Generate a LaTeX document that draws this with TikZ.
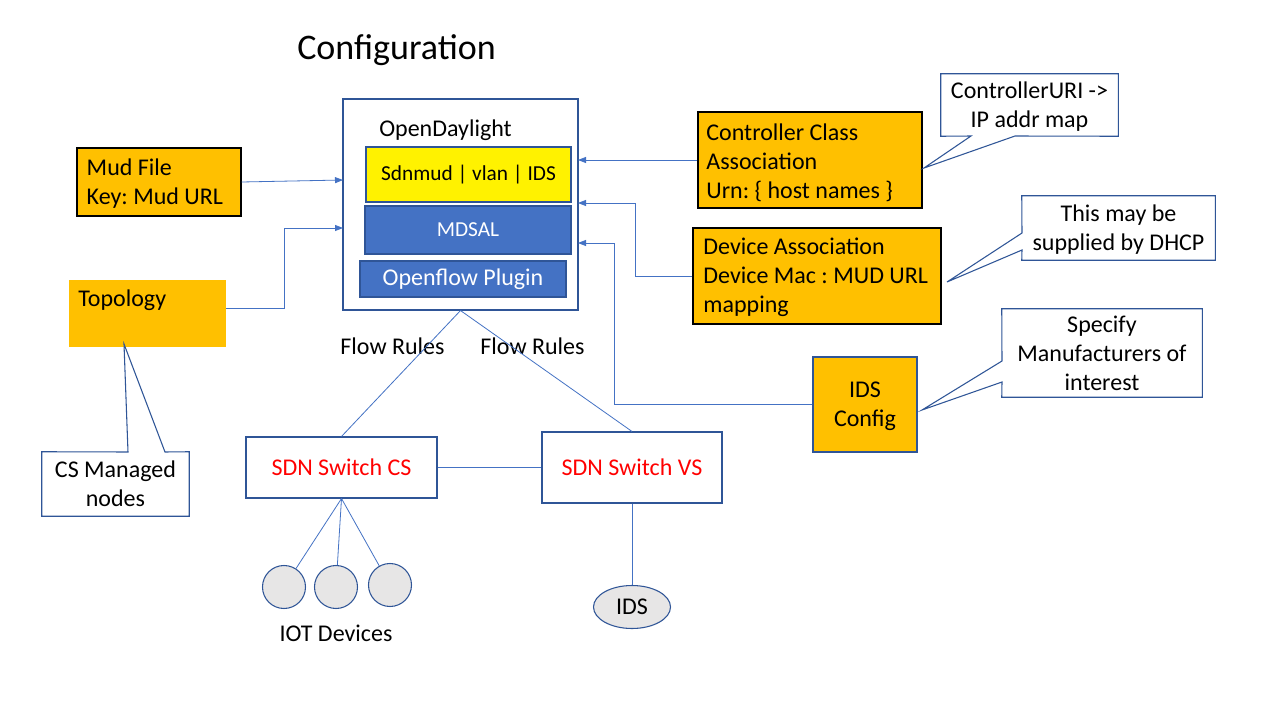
\documentclass[tikz,border=0pt]{standalone}
\usepackage{fontspec}
\setmainfont{Carlito}
\usetikzlibrary{shapes.geometric,arrows.meta}

\definecolor{boxorange}{HTML}{FFC000}
\definecolor{darkblue}{HTML}{2F5597}
\definecolor{lineblue}{HTML}{4472C4}
\definecolor{devgrey}{HTML}{E7E6E6}

\tikzset{
  txt/.style={font=\fontsize{18}{21.6}\selectfont\frenchspacing},
  orangebox/.style={draw=black, fill=boxorange, line width=0.8pt, inner sep=0pt},
  boxtext/.style={txt, align=flush left, inner sep=0pt, anchor=west},
  notebox/.style={txt, align=center, inner sep=0pt, text depth=0pt},
  notefr/.style={draw=darkblue, line width=0.8pt, line join=miter},
  layerbox/.style={draw=darkblue, line width=0.8pt, inner sep=0pt},
  switchbox/.style={txt, draw=darkblue, line width=0.8pt, text=red, inner sep=0pt},
  link/.style={draw=lineblue, line width=0.6pt},
  arr/.style={link, -{Triangle[length=6pt,width=4.5pt]}},
  devcirc/.style={circle, draw=darkblue, fill=devgrey, line width=0.8pt, minimum size=32.25pt, inner sep=0pt},
}

\begin{document}
\begin{tikzpicture}[x=0.75pt, y=-0.75pt]
  \path[fill=white, use as bounding box] (0,0) rectangle (1280,720);

  % title
  \node[font=\fontsize{27}{32}\selectfont] (title) at (396.5,50) {Configuration};

  % controller
  \node[layerbox, minimum width=176.25pt, minimum height=158.25pt] (odl) at (460.5,204.5) {};
  \node[txt] (odltext) at (445.5,130) {OpenDaylight};
  \node[layerbox, fill=yellow, font=\fontsize{16}{19}\selectfont, minimum width=153.75pt, minimum height=41.25pt] (apps) at (468.5,174.5) {Sdnmud | vlan | IDS};
  \node[layerbox, fill=lineblue, text=white, font=\fontsize{16}{19}\selectfont, minimum width=154.5pt, minimum height=36pt] (mdsal) at (468,230) {MDSAL};
  \node[layerbox, fill=lineblue, text=white, txt, minimum width=154.5pt, minimum height=27pt] (ofp) at (463,279) {Openflow Plugin};

  % inputs
  \node[orangebox, minimum width=123pt, minimum height=51pt] (mud) at (159,182) {};
  \node[boxtext] (mudtxt) at ([xshift=7.5pt,yshift=-1.5pt]mud.west) {Mud File\\Key: Mud URL};
  \node[fill=boxorange, minimum width=117.75pt, minimum height=50.25pt, inner sep=0pt,
        label={[txt, anchor=north west, inner xsep=7pt, inner ysep=7.5pt]north west:Topology}] (topo) at (147.5,313.5) {};
  \node[orangebox, minimum width=168pt, minimum height=72pt] (ctrl) at (810,160) {};
  \node[boxtext] (ctrltxt) at ([xshift=6.5pt,yshift=-2pt]ctrl.west) {Controller Class\\Association\\Urn: \{ host names \}};
  \node[orangebox, minimum width=186pt, minimum height=72pt] (dev) at (817,276) {};
  \node[boxtext] (devtxt) at ([xshift=8pt,yshift=-1pt]dev.west) {Device Association\\Device Mac : MUD URL\\mapping};
  \node[txt, draw=darkblue, fill=boxorange, line width=0.8pt, align=center, inner sep=0pt, text depth=0pt, minimum width=78pt, minimum height=71.25pt] (idscfg) at (865,404.5) {IDS\\Config};

  % notes
  \node[notebox, minimum width=110.25pt, minimum height=48pt] (csnote) at (115.5,484) {CS Managed\\nodes};
  \draw[notefr] (csnote.north west) -- (128,452) -- (124,344) -- (165,452) -- (csnote.north east) -- (csnote.south east) -- (csnote.south west) -- cycle;
  \node[notebox, minimum width=132.75pt, minimum height=46.5pt] (urinote) at (1029.5,105) {ControllerURI ->\\IP addr map};
  \draw[notefr] (urinote.south east) -- (1015,136) -- (924,168) -- (971,136) -- (urinote.south west) -- (urinote.north west) -- (urinote.north east) -- cycle;
  \node[notebox, minimum width=144.75pt, minimum height=48pt] (dhcpnote) at (1118.5,228) {This may be\\supplied by DHCP};
  \draw[notefr] (dhcpnote.north west) -- (1022,233) -- (947,282) -- (1022,250) -- (dhcpnote.south west) -- (dhcpnote.south east) -- (dhcpnote.north east) -- cycle;
  \node[notebox, minimum width=150pt, minimum height=66pt] (mfrnote) at (1102,353) {Specify\\Manufacturers of\\interest};
  \draw[notefr] (mfrnote.north west) -- (1002,361) -- (922,410) -- (1002,382) -- (mfrnote.south west) -- (mfrnote.south east) -- (mfrnote.north east) -- cycle;

  % switches and devices
  \node[switchbox, minimum width=143.25pt, minimum height=45.75pt] (swcs) at (341.5,467.5) {SDN Switch CS};
  \node[switchbox, minimum width=135pt, minimum height=53.25pt] (swvs) at (632,467.5) {SDN Switch VS};
  \node[devcirc] (iot1) at (284,587) {};
  \node[devcirc] (iot2) at (336,587) {};
  \node[devcirc] (iot3) at (390,585) {};
  \node[txt] (iotlbl) at (336,633) {IOT Devices};
  \node[txt, ellipse, draw=darkblue, fill=devgrey, line width=0.8pt, inner sep=0pt, minimum width=57.75pt, minimum height=32.25pt] (ids) at (632,607) {IDS};

  \node[txt] (flow1) at (392.5,346) {Flow Rules};
  \node[txt] (flow2) at (532.5,346) {Flow Rules};

  % arrows into the controller
  \coordinate (inA) at (578,160);
  \coordinate (inB) at (578,203);
  \coordinate (inC) at (578,243);
  \coordinate (inD) at (343,180);
  \coordinate (inE) at (343,228);
  \draw[arr] (mud.east) -- (inD);
  \draw[arr] ([yshift=4pt]topo.east) -- ++(58,0) |- (inE);
  \draw[arr] (ctrl.west) -- (inA);
  \draw[arr] (dev.west) -- ++(-57,0) |- (inB);
  \draw[arr] (idscfg.west) -- ++(-198,0) |- (inC);

  % links
  \draw[link] (odl.south) -- (swcs.north);
  \draw[link] (odl.south) -- (swvs.north);
  \draw[link] (swcs) -- (swvs);
  \draw[link] (swcs.south) -- (iot1);
  \draw[link] (swcs.south) -- (iot2);
  \draw[link] (swcs.south) -- (iot3);
  \draw[link] (swvs.south) -- (ids);
\end{tikzpicture}
\end{document}
